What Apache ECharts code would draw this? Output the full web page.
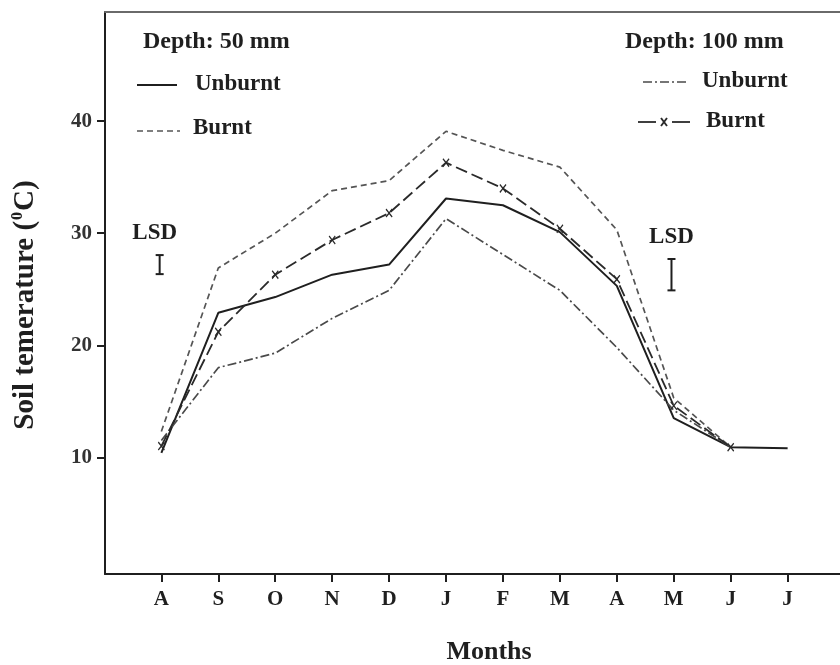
<!DOCTYPE html>
<html>
<head>
<meta charset="utf-8">
<script src="https://cdn.jsdelivr.net/npm/echarts@6/dist/echarts.min.js"></script>
<style>html,body{margin:0;padding:0;background:#fff}#c{width:840px;height:665px}</style>
</head>
<body>
<div id="c"></div>
<script>
// ---- data ----
const months = ['A', 'S', 'O', 'N', 'D', 'J', 'F', 'M', 'A', 'M', 'J', 'J'];
const unburnt50 = [10.4, 22.9, 24.3, 26.3, 27.2, 33.1, 32.5, 30.1, 25.3, 13.5, 10.9, 10.8];
const burnt50 = [12.3, 26.9, 30.0, 33.8, 34.7, 39.1, 37.4, 35.9, 30.3, 15.3, 10.9];
const unburnt100 = [11.5, 18.0, 19.3, 22.4, 24.9, 31.3, 28.1, 24.9, 19.8, 14.2, 10.9];
const burnt100 = [11.0, 21.2, 26.3, 29.4, 31.8, 36.3, 34.0, 30.4, 25.9, 14.6, 10.9];
const yTickValues = [10, 20, 30, 40];
const lsdValues = [1.7, 2.8];

const FONT = '"Liberation Serif", "Times New Roman", serif';
const ink = '#1f1f1f';
const monthIdx = months.map((m, i) => i);
const pairs = arr => arr.map((v, i) => [i, v]);
const xMark = 'path://M0,1.2L1.2,0L5,3.8L8.8,0L10,1.2L6.2,5L10,8.8L8.8,10L5,6.2L1.2,10L0,8.8L3.8,5Z';

const chart = echarts.init(document.getElementById('c'));

// where the two LSD bars sit (x index, y centre, label dx)
const lsdPlace = [[-0.03, 27.2, -5], [8.96, 26.3, 0]];

chart.setOption({
  animation: false,
  backgroundColor: '#fff',
  grid: { left: 105, top: 12, right: 0, bottom: 91, containLabel: false },
  xAxis: [{
    type: 'value', min: -0.99, max: 11.92,
    axisLine: { show: true, onZero: false, lineStyle: { color: ink, width: 2 } },
    axisTick: { show: true, customValues: monthIdx, length: 8, lineStyle: { color: ink, width: 2 } },
    axisLabel: {
      customValues: monthIdx, margin: 15,
      formatter: v => months[Math.round(v)],
      fontFamily: FONT, fontWeight: 'bold', fontSize: 21, color: ink
    },
    splitLine: { show: false }
  }, {
    type: 'value', position: 'top', min: -0.99, max: 11.92,
    axisLine: { show: true, onZero: false, lineStyle: { color: '#6a6a6a', width: 2 } },
    axisTick: { show: false }, axisLabel: { show: false }, splitLine: { show: false }
  }],
  yAxis: {
    type: 'value', min: -0.42, max: 49.75,
    axisLine: { show: true, onZero: false, lineStyle: { color: ink, width: 2 } },
    axisTick: { show: true, customValues: yTickValues, length: 8, lineStyle: { color: ink, width: 2 } },
    axisLabel: {
      customValues: yTickValues, margin: 13,
      fontFamily: FONT, fontWeight: 'bold', fontSize: 21, color: '#333'
    },
    splitLine: { show: false }
  },
  series: [{
    name: 'Unburnt 50 mm', type: 'line', data: pairs(unburnt50),
    symbol: 'none', lineStyle: { color: ink, width: 2 }
  }, {
    name: 'Burnt 50 mm', type: 'line', data: pairs(burnt50),
    symbol: 'none', lineStyle: { color: '#555', width: 1.7, type: [6, 4] }
  }, {
    name: 'Unburnt 100 mm', type: 'line', data: pairs(unburnt100),
    symbol: 'none', lineStyle: { color: '#4a4a4a', width: 1.7, type: [9, 3, 2, 3] }
  }, {
    name: 'Burnt 100 mm', type: 'line', data: pairs(burnt100),
    symbol: xMark, symbolSize: [7, 9], showSymbol: true,
    itemStyle: { color: '#2a2a2a' },
    lineStyle: { color: '#2a2a2a', width: 1.8, type: [12, 5] }
  }, {
    name: 'LSD', type: 'custom', silent: true,
    data: lsdValues.map((v, i) => [lsdPlace[i][0], lsdPlace[i][1], v, lsdPlace[i][2]]),
    renderItem: function (params, api) {
      const x = api.value(0), y = api.value(1), h = api.value(2), dx = api.value(3);
      const t = api.coord([x, y + h / 2]);
      const b = api.coord([x, y - h / 2]);
      const cap = 4;
      const st = { stroke: ink, lineWidth: 2 };
      return {
        type: 'group', children: [
          { type: 'line', shape: { x1: t[0], y1: t[1], x2: b[0], y2: b[1] }, style: st },
          { type: 'line', shape: { x1: t[0] - cap, y1: t[1], x2: t[0] + cap, y2: t[1] }, style: st },
          { type: 'line', shape: { x1: b[0] - cap, y1: b[1], x2: b[0] + cap, y2: b[1] }, style: st },
          { type: 'text', style: { text: 'LSD', x: t[0] + dx, y: t[1] - 22, align: 'center', verticalAlign: 'middle',
              font: 'bold 23px ' + FONT, fill: ink } }
        ]
      };
    }
  }],
  graphic: [
    // left legend block
    { type: 'text', left: 143, top: 30, style: { text: 'Depth: 50 mm', font: 'bold 24px ' + FONT, fill: ink } },
    { type: 'line', shape: { x1: 137, y1: 85, x2: 177, y2: 85 }, style: { stroke: ink, lineWidth: 2 } },
    { type: 'text', left: 195, top: 73, style: { text: 'Unburnt', font: 'bold 23px ' + FONT, fill: ink } },
    { type: 'line', shape: { x1: 137, y1: 131, x2: 180, y2: 131 }, style: { stroke: '#555', lineWidth: 1.7, lineDash: [6, 4] } },
    { type: 'text', left: 193, top: 117, style: { text: 'Burnt', font: 'bold 23px ' + FONT, fill: ink } },
    // right legend block
    { type: 'text', left: 625, top: 30, style: { text: 'Depth: 100 mm', font: 'bold 24px ' + FONT, fill: ink } },
    { type: 'line', shape: { x1: 643, y1: 82, x2: 689, y2: 82 }, style: { stroke: '#4a4a4a', lineWidth: 1.7, lineDash: [9, 3, 2, 3] } },
    { type: 'text', left: 702, top: 70, style: { text: 'Unburnt', font: 'bold 23px ' + FONT, fill: ink } },
    { type: 'line', shape: { x1: 638, y1: 122, x2: 656, y2: 122 }, style: { stroke: '#2a2a2a', lineWidth: 1.8 } },
    { type: 'line', shape: { x1: 672, y1: 122, x2: 690, y2: 122 }, style: { stroke: '#2a2a2a', lineWidth: 1.8 } },
    { type: 'line', shape: { x1: 661, y1: 118, x2: 667, y2: 126 }, style: { stroke: '#2a2a2a', lineWidth: 1.8 } },
    { type: 'line', shape: { x1: 667, y1: 118, x2: 661, y2: 126 }, style: { stroke: '#2a2a2a', lineWidth: 1.8 } },
    { type: 'text', left: 706, top: 110, style: { text: 'Burnt', font: 'bold 23px ' + FONT, fill: ink } },
    // axis titles
    { type: 'text', x: 489, y: 652, style: { text: 'Months', font: 'bold 26px ' + FONT, fill: ink, align: 'center', verticalAlign: 'middle' } },
    { type: 'text', x: 26, y: 305, rotation: Math.PI / 2,
      style: {
        text: '{a|Soil temerature (}{s|0}{a|C)}', align: 'center', verticalAlign: 'middle',
        rich: {
          a: { font: 'bold 29px ' + FONT, fill: ink, lineHeight: 32 },
          s: { font: 'bold 16px ' + FONT, fill: ink, lineHeight: 32, verticalAlign: 'top', padding: [0, 1, 14, 1] }
        }
      } }
  ]
});
</script>
</body>
</html>
